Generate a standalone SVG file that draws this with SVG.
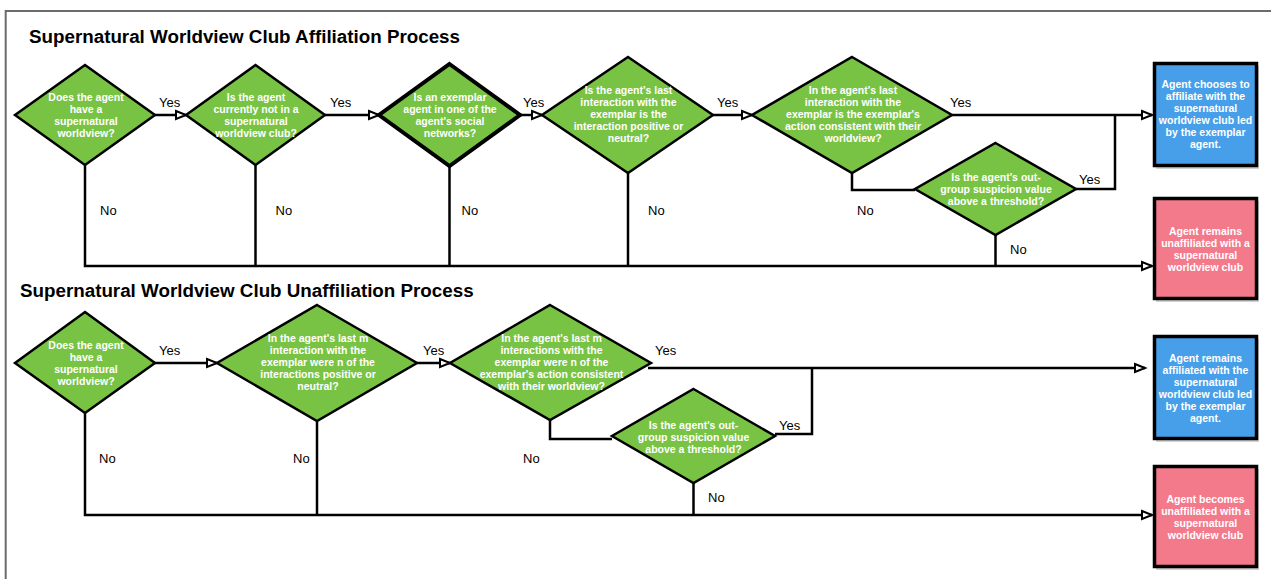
<svg xmlns="http://www.w3.org/2000/svg" width="1271" height="579" viewBox="0 0 1271 579">
<defs>
<style>
.dia{fill:#78C343;stroke:#000;stroke-width:2.5;stroke-linejoin:miter}
.thick{stroke-width:4}
.dt{font-family:"Liberation Sans",Arial,Helvetica,sans-serif;font-size:10.5px;font-weight:bold;fill:#fff;text-anchor:middle}
.lbl{font-family:"Liberation Sans",Arial,Helvetica,sans-serif;font-size:13px;fill:#000}
.title{font-family:"Liberation Sans",Arial,Helvetica,sans-serif;font-size:18.8px;font-weight:bold;fill:#000}
.blue{fill:#479FEA;stroke:#000;stroke-width:3.5}
.pink{fill:#F27A8B;stroke:#000;stroke-width:3.5}
.shadow{fill:#000;opacity:0.18}
.con{fill:none;stroke:#000;stroke-width:2.5}
</style>
<marker id="arr" markerUnits="userSpaceOnUse" markerWidth="14" markerHeight="12" refX="11" refY="5" orient="auto" viewBox="0 0 14 10">
<path d="M1,1 L11,5 L1,9 Z" fill="#fff" stroke="#000" stroke-width="2"/>
</marker>
</defs>
<rect x="0" y="0" width="1271" height="579" fill="#fff"/>
<path d="M5.7,579 V11 H1271" fill="none" stroke="#6b6b6b" stroke-width="2"/>

<text class="title" x="29" y="42.5">Supernatural Worldview Club Affiliation Process</text>
<text class="title" x="20" y="297">Supernatural Worldview Club Unaffiliation Process</text>

<g id="connectors">
<!-- section 1 -->
<path class="con" d="M155,115 H186" marker-end="url(#arr)"/>
<path class="con" d="M325,115 H379" marker-end="url(#arr)"/>
<path class="con" d="M520,115 H542" marker-end="url(#arr)"/>
<path class="con" d="M713,115 H752" marker-end="url(#arr)"/>
<path class="con" d="M952,115 H1152" marker-end="url(#arr)"/>
<path class="con" d="M852,173 V190 H915"/>
<path class="con" d="M1076,189 H1115 V115"/>
<path class="con" d="M85,165 V266 H1152" marker-end="url(#arr)"/>
<path class="con" d="M255.5,165 V266"/>
<path class="con" d="M449.5,166 V266"/>
<path class="con" d="M628,173 V266"/>
<path class="con" d="M995.5,235 V266"/>
<!-- section 2 -->
<path class="con" d="M155,363 H217" marker-end="url(#arr)"/>
<path class="con" d="M417,363 H450" marker-end="url(#arr)"/>
<path class="con" d="M648,368 H1145" marker-end="url(#arr)"/>
<path class="con" d="M775,434 H812 V368"/>
<path class="con" d="M550,420 V439 H612"/>
<path class="con" d="M85,413 V515 H1152" marker-end="url(#arr)"/>
<path class="con" d="M317,421 V515"/>
<path class="con" d="M693.5,483 V515"/>
<!-- labels -->
<text class="lbl" x="159" y="106.5">Yes</text>
<text class="lbl" x="330" y="106.5">Yes</text>
<text class="lbl" x="523" y="106.5">Yes</text>
<text class="lbl" x="717" y="106.5">Yes</text>
<text class="lbl" x="950" y="106.5">Yes</text>
<text class="lbl" x="1079" y="184">Yes</text>
<text class="lbl" x="100" y="214.5">No</text>
<text class="lbl" x="275.5" y="214.5">No</text>
<text class="lbl" x="461.5" y="214.5">No</text>
<text class="lbl" x="648" y="214.5">No</text>
<text class="lbl" x="857" y="214.5">No</text>
<text class="lbl" x="1010" y="253.5">No</text>
<text class="lbl" x="159" y="354.5">Yes</text>
<text class="lbl" x="423" y="354.5">Yes</text>
<text class="lbl" x="655" y="354.5">Yes</text>
<text class="lbl" x="779" y="429.5">Yes</text>
<text class="lbl" x="99" y="462.5">No</text>
<text class="lbl" x="293" y="462.5">No</text>
<text class="lbl" x="523" y="462.5">No</text>
<text class="lbl" x="708" y="501.5">No</text>
</g>

<g id="a1">
<polygon class="dia" points="85,65 155,115 85,165 15,115"/>
<text class="dt" x="86" y="100.5">Does the agent</text>
<text class="dt" x="86" y="112.5">have a</text>
<text class="dt" x="86" y="124.5">supernatural</text>
<text class="dt" x="86" y="136.5">worldview?</text>
</g>
<g id="a2">
<polygon class="dia" points="255.5,65 325,115 255.5,165 186,115"/>
<text class="dt" x="256" y="100.5">Is the agent</text>
<text class="dt" x="256" y="112.5">currently not in a</text>
<text class="dt" x="256" y="124.5">supernatural</text>
<text class="dt" x="256" y="136.5">worldview club?</text>
</g>
<g id="a3">
<polygon class="dia thick" points="449.5,64 520,115 449.5,166 379,115"/>
<text class="dt" x="450" y="100.5">Is an exemplar</text>
<text class="dt" x="450" y="112.5">agent in one of the</text>
<text class="dt" x="450" y="124.5">agent's social</text>
<text class="dt" x="450" y="136.5">networks?</text>
</g>
<g id="a4">
<polygon class="dia" points="628,57 713,115 628,173 542,115"/>
<text class="dt" x="628.5" y="94">Is the agent's last</text>
<text class="dt" x="628.5" y="106">interaction with the</text>
<text class="dt" x="628.5" y="118">exemplar is the</text>
<text class="dt" x="628.5" y="130">interaction positive or</text>
<text class="dt" x="628.5" y="142">neutral?</text>
</g>
<g id="a5">
<polygon class="dia" points="852,57 952,115 852,173 752,115"/>
<text class="dt" x="853" y="94">In the agent's last</text>
<text class="dt" x="853" y="106">interaction with the</text>
<text class="dt" x="853" y="118">exemplar is the exemplar's</text>
<text class="dt" x="853" y="130">action consistent with their</text>
<text class="dt" x="853" y="142">worldview?</text>
</g>
<g id="a6">
<polygon class="dia" points="995.5,143 1076,189 995.5,235 915,189"/>
<text class="dt" x="996" y="180.5">Is the agent's out-</text>
<text class="dt" x="996" y="192.5">group suspicion value</text>
<text class="dt" x="996" y="204.5">above a threshold?</text>
</g>
<g id="a-yes">
<rect class="shadow" x="1156" y="66" width="103" height="103"/>
<rect class="blue" x="1154.5" y="63.5" width="102" height="102"/>
<text class="dt" x="1205.5" y="88">Agent chooses to</text>
<text class="dt" x="1205.5" y="100">affiliate with the</text>
<text class="dt" x="1205.5" y="112">supernatural</text>
<text class="dt" x="1205.5" y="124">worldview club led</text>
<text class="dt" x="1205.5" y="136">by the exemplar</text>
<text class="dt" x="1205.5" y="148">agent.</text>
</g>
<g id="a-no">
<rect class="shadow" x="1156" y="201" width="103" height="101"/>
<rect class="pink" x="1154.5" y="198.5" width="102" height="100"/>
<text class="dt" x="1205.5" y="234.5">Agent remains</text>
<text class="dt" x="1205.5" y="246.5">unaffiliated with a</text>
<text class="dt" x="1205.5" y="258.5">supernatural</text>
<text class="dt" x="1205.5" y="270.5">worldview club</text>
</g>

<g id="u1">
<polygon class="dia" points="85,312 155,363 85,413 15,363"/>
<text class="dt" x="86" y="348.5">Does the agent</text>
<text class="dt" x="86" y="360.5">have a</text>
<text class="dt" x="86" y="372.5">supernatural</text>
<text class="dt" x="86" y="384.5">worldview?</text>
</g>
<g id="u2">
<polygon class="dia" points="317,305 417,363 317,421 217,363"/>
<text class="dt" x="318" y="342">In the agent's last m</text>
<text class="dt" x="318" y="354">interaction with the</text>
<text class="dt" x="318" y="366">exemplar were n of the</text>
<text class="dt" x="318" y="378">interactions positive or</text>
<text class="dt" x="318" y="390">neutral?</text>
</g>
<g id="u3">
<polygon class="dia" points="550,305 651,363 550,420 450,363"/>
<text class="dt" x="551.5" y="342">In the agent's last m</text>
<text class="dt" x="551.5" y="354">interactions with the</text>
<text class="dt" x="551.5" y="366">exemplar were n of the</text>
<text class="dt" x="551.5" y="378">exemplar's action consistent</text>
<text class="dt" x="551.5" y="390">with their worldview?</text>
</g>
<g id="u4">
<polygon class="dia" points="693.5,389 775,436 693.5,483 612,436"/>
<text class="dt" x="693.5" y="428.5">Is the agent's out-</text>
<text class="dt" x="693.5" y="440.5">group suspicion value</text>
<text class="dt" x="693.5" y="452.5">above a threshold?</text>
</g>
<g id="u-yes">
<rect class="shadow" x="1156" y="339" width="103" height="103"/>
<rect class="blue" x="1154.5" y="336.5" width="102" height="102"/>
<text class="dt" x="1205.5" y="361.5">Agent remains</text>
<text class="dt" x="1205.5" y="373.5">affiliated with the</text>
<text class="dt" x="1205.5" y="385.5">supernatural</text>
<text class="dt" x="1205.5" y="397.5">worldview club led</text>
<text class="dt" x="1205.5" y="409.5">by the exemplar</text>
<text class="dt" x="1205.5" y="421.5">agent.</text>
</g>
<g id="u-no">
<rect class="shadow" x="1156" y="469" width="103" height="101"/>
<rect class="pink" x="1154.5" y="466.5" width="102" height="100"/>
<text class="dt" x="1205.5" y="503">Agent becomes</text>
<text class="dt" x="1205.5" y="515">unaffiliated with a</text>
<text class="dt" x="1205.5" y="527">supernatural</text>
<text class="dt" x="1205.5" y="539">worldview club</text>
</g>
</svg>
